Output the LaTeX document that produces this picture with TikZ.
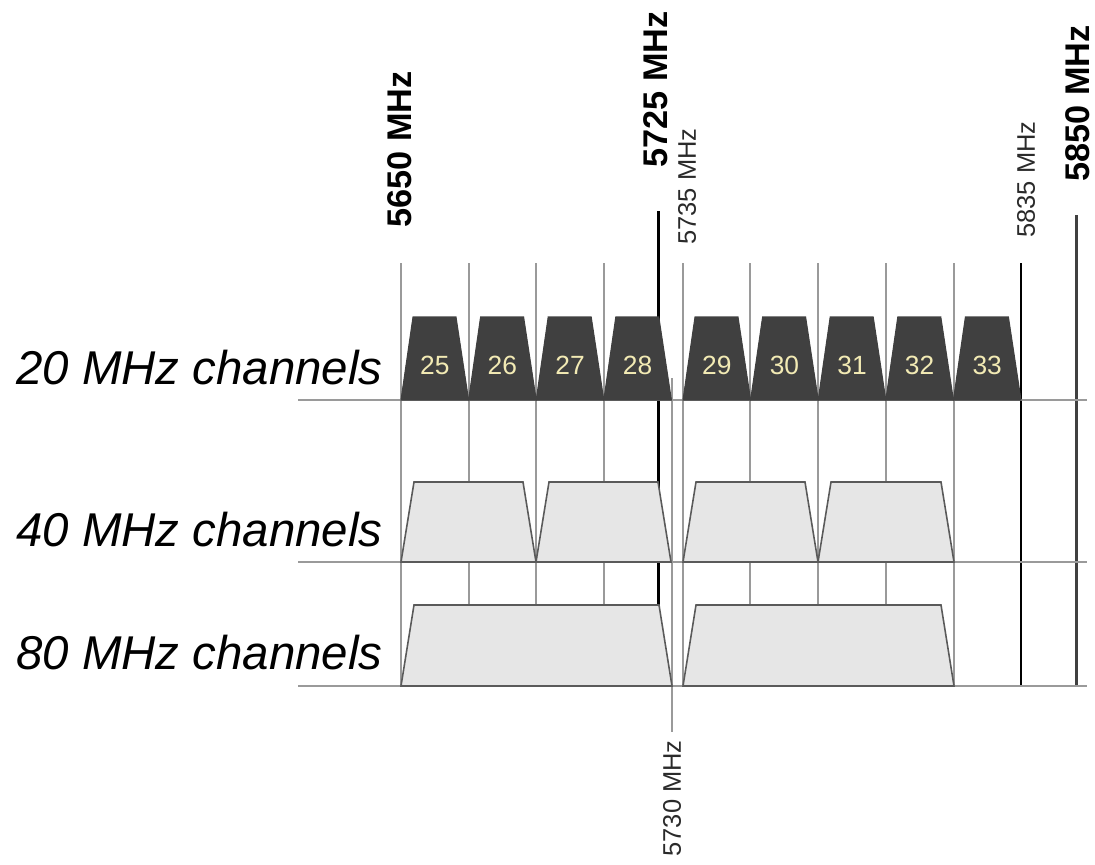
\documentclass[tikz,border=0pt]{standalone}
\usepackage{fontspec}
\setmainfont{Liberation Sans}
\usepackage{tikz}
\definecolor{ch-dark}{HTML}{404040}
\definecolor{ch-light}{HTML}{E6E6E6}
\definecolor{ch-edge}{HTML}{5A5A5A}
\definecolor{ch-grid}{HTML}{9A9A9A}
\definecolor{ch-num}{HTML}{F2EAB4}
\definecolor{ch-ink}{HTML}{2A2A2A}

\tikzset{
  chnarrow/.style={fill=ch-dark, draw=ch-dark, line width=0.6pt},
  chwide/.style={fill=ch-light, draw=ch-edge, line width=0.9pt},
  gridline/.style={ch-grid, line width=0.8pt},
  rowline/.style={ch-grid, line width=1.4pt},
  freqbig/.style={rotate=90, anchor=west, inner sep=0pt, font=\fontsize{19.5}{20}\selectfont\bfseries},
  freqsmall/.style={rotate=90, inner sep=0pt, text=ch-ink, font=\fontsize{14.5}{15}\selectfont},
  rowlabel/.style={anchor=east, inner sep=0pt, font=\fontsize{27}{30}\selectfont\itshape},
  chnum/.style={inner sep=0pt, text=ch-num, font=\fontsize{15}{16}\selectfont}
}

\begin{document}
\begin{tikzpicture}[x=0.02cm, y=-0.02cm, line join=miter]
  \useasboundingbox (0,0) rectangle (1095,865);
  % grid
  \foreach \x in {401,469,536,604,683,750,818,886,954}
    \draw[gridline] (\x,263) -- (\x,686);
  \draw[gridline] (672,378) -- (672,732);
  \draw[line width=1.7pt] (658,211) -- (658,686);
  \draw[line width=1.2pt] (1021,263) -- (1021,686);
  \draw[line width=1.7pt, black!75] (1076,215) -- (1076,686);
  \foreach \y in {400,562,686}
    \draw[rowline] (298,\y) -- (1087,\y);
  % 20 MHz
  \foreach \n [evaluate=\n as \l using {401+67.6*(\n-25)}] in {25,...,28} {
    \draw[chnarrow] (\l,400) -- (\l+12,317) -- (\l+55,317) -- (\l+67.6,400) -- cycle;
    \node[chnum] (ch\n) at (\l+33.8,365) {\n};
  }
  \foreach \n [evaluate=\n as \l using {683+67.6*(\n-29)}] in {29,...,33} {
    \draw[chnarrow] (\l,400) -- (\l+12,317) -- (\l+55,317) -- (\l+67.6,400) -- cycle;
    \node[chnum] (ch\n) at (\l+33.8,365) {\n};
  }
  % 40 MHz
  \foreach \l/\r in {401/536, 536/671, 683/818, 818/954}
    \draw[chwide] (\l,562) -- (\l+13,482) -- (\r-13,482) -- (\r,562) -- cycle;
  % 80 MHz
  \foreach \l/\r in {401/672, 683/954}
    \draw[chwide] (\l,686) -- (\l+13,605) -- (\r-13,605) -- (\r,686) -- cycle;
  % labels
  \node[rowlabel] (row20) at (383,368) {20 MHz channels};
  \node[rowlabel] (row40) at (383,530) {40 MHz channels};
  \node[rowlabel] (row80) at (383,653) {80 MHz channels};
  \node[freqbig] (f5650) at (400,228) {5650 MHz};
  \node[freqbig] (f5725) at (656,168) {5725 MHz};
  \node[freqbig] (f5850) at (1078,182) {5850 MHz};
  \node[freqsmall, anchor=west] (f5735) at (687,245) {5735 MHz};
  \node[freqsmall, anchor=west] (f5835) at (1026,238) {5835 MHz};
  \node[freqsmall, anchor=east] (f5730) at (672,740) {5730 MHz};
\end{tikzpicture}
\end{document}
